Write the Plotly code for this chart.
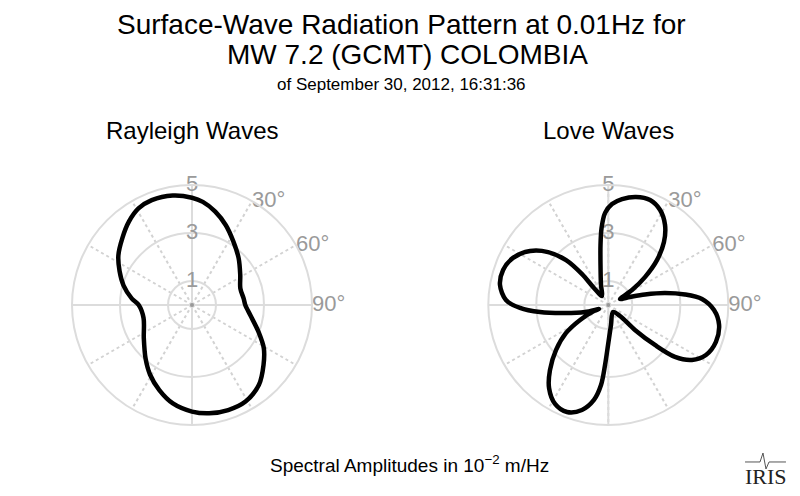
import plotly.graph_objects as go

# Rayleigh wave radiation pattern (azimuth in degrees, amplitude in 1e-2 m/Hz)
rayleigh_theta = [0, 6, 14, 23, 33, 45, 58, 71, 83, 90, 100, 112, 121, 130, 140,
                  151, 161, 171, 180, 191, 201, 211, 221, 235, 255, 270, 276,
                  286, 295, 304, 314, 323, 331, 339, 350, 360]
rayleigh_r = [4.47, 4.32, 4.01, 3.61, 3.16, 2.75, 2.37, 2.13, 2.17, 2.22, 2.47,
              2.99, 3.49, 3.89, 4.34, 4.60, 4.63, 4.57, 4.44, 4.18, 3.80, 3.39,
              2.95, 2.45, 2.09, 2.22, 2.52, 2.97, 3.33, 3.70, 4.03, 4.36, 4.60,
              4.68, 4.63, 4.47]

# Love wave radiation pattern, listed in order round the curve
love_theta = [340, 349, 352.6, 355, 358, 2.1, 7.4, 14.4, 21.7, 28.6, 35.3,
              41.5, 47.3, 52.7, 57.7, 62.9,
              69.8, 74, 78, 82.2, 86.3, 92.7, 100.2, 108.9, 117.1, 123.3,
              127.9, 130.6, 133.1, 133.2, 146,
              172.3, 180.4, 183.1, 185.2, 188.6, 194.1, 201.1, 208.3, 215.5, 221.9,
              229.3, 236.5, 242.1, 247.2, 246.7,
              253.3, 259.5, 264.1, 268.1, 272.8, 280.5, 288.4, 296.3, 304.6, 311.3,
              316.8, 319.7, 319.9, 325, 340]
love_r = [0.89, 1.70, 2.52, 3.22, 3.84, 4.21, 4.45, 4.65, 4.71, 4.51, 4.09,
          3.50, 2.76, 1.92, 1.17, 0.55,
          0.96, 1.59, 2.41, 3.23, 3.91, 4.41, 4.69, 4.74, 4.57, 4.17,
          3.52, 2.56, 1.52, 0.67, 0.35,
          0.84, 1.67, 2.50, 3.35, 4.00, 4.51, 4.78, 4.68, 4.25, 3.64,
          2.87, 2.11, 1.33, 0.65, 0.42,
          1.01, 1.83, 2.86, 3.68, 4.27, 4.59, 4.62, 4.43, 3.96, 3.34,
          2.57, 1.69, 0.93, 0.46, 0.89]

radial_ticks = [1, 3, 5]
angle_ticks = [30, 60, 90]
angle_labels = ["30°", "60°", "90°"]

GRID = "#dcdcdc"
LABEL = "#9a9a9a"

# the page body adds an 8px margin, so the figure is 784x480 inside the window
W, H, OFF = 784, 480, 8


def px(x, y):
    return (x - OFF) / W, 1 - (y - OFF) / H


fig = go.Figure()

for sub, th, rr in [("polar", rayleigh_theta, rayleigh_r),
                    ("polar2", love_theta, love_r)]:
    for a in [0, 90]:
        fig.add_trace(go.Scatterpolar(r=[5, 0, 5], theta=[a, a, a + 180], mode="lines",
                                      line=dict(color=GRID, width=2), subplot=sub,
                                      hoverinfo="skip", showlegend=False))
    fig.add_trace(go.Scatterpolar(r=[0], theta=[0], mode="markers",
                                  marker=dict(color="#999999", size=4), subplot=sub,
                                  hoverinfo="skip", showlegend=False))
    fig.add_trace(go.Scatterpolar(r=radial_ticks, theta=[0] * 3, mode="text",
                                  text=[str(v) for v in radial_ticks],
                                  textfont=dict(size=22, color=LABEL, family="Liberation Sans"),
                                  textposition="middle center", cliponaxis=False,
                                  subplot=sub, hoverinfo="skip", showlegend=False))
    fig.add_trace(go.Scatterpolar(r=[5] * 3, theta=angle_ticks, mode="text",
                                  text=angle_labels,
                                  textfont=dict(size=22, color=LABEL, family="Liberation Sans"),
                                  textposition="middle right", cliponaxis=False,
                                  subplot=sub, hoverinfo="skip", showlegend=False))
    fig.add_trace(go.Scatterpolar(r=rr, theta=th, mode="lines",
                                  line=dict(color="black", width=4.5, shape="spline",
                                            smoothing=0.9),
                                  cliponaxis=False, subplot=sub, showlegend=False))

polar_common = dict(
    bgcolor="white",
    radialaxis=dict(range=[0, 5], tickvals=radial_ticks, showticklabels=False,
                    ticks="", showline=False, gridcolor=GRID, gridwidth=2),
    angularaxis=dict(rotation=90, direction="clockwise", tickmode="array",
                     tickvals=list(range(0, 360, 30)), showticklabels=False,
                     ticks="", showline=True, linecolor=GRID, linewidth=2,
                     gridcolor="#d2d2d2", gridwidth=2, griddash="dot"),
)

lx0, ly1 = px(72, 185)
lx1, ly0 = px(312, 425)
rx0, _ = px(488.3, 185)
rx1, _ = px(728.3, 185)

fig.update_layout(
    width=W, height=H,
    margin=dict(l=0, r=0, t=0, b=0),
    paper_bgcolor="white",
    font=dict(family="Liberation Sans, Arial", color="black"),
    polar=dict(domain=dict(x=[lx0, lx1], y=[ly0, ly1]), **polar_common),
    polar2=dict(domain=dict(x=[rx0, rx1], y=[ly0, ly1]), **polar_common),
)


def note(text, x, y, size, **kw):
    xp, yp = px(x, y)
    fig.add_annotation(text=text, x=xp, y=yp, xref="paper", yref="paper",
                       showarrow=False, xanchor="center", yanchor="middle",
                       font=dict(size=size, **kw))


note("Surface-Wave Radiation Pattern at 0.01Hz for", 401, 25, 28)
note("MW 7.2 (GCMT) COLOMBIA", 407, 55, 28)
note("of September 30, 2012, 16:31:36", 401, 84, 17)
note("Rayleigh Waves", 192, 130, 24)
note("Love Waves", 608, 130, 24)
note("Spectral Amplitudes in 10<sup>−2</sup> m/Hz", 409, 464, 19)
note("IRIS", 766, 476, 22, family="Liberation Serif", color="#222222")

# small seismogram squiggle of the logo
pts = [(745, 462), (760, 462), (763, 453), (766, 469), (769, 462), (786, 462)]
path = "M " + " L ".join("%.4f %.4f" % px(x, y) for x, y in pts)
fig.add_shape(type="path", xref="paper", yref="paper", path=path,
              line=dict(color="#555555", width=1))

fig.write_html("out.html")
